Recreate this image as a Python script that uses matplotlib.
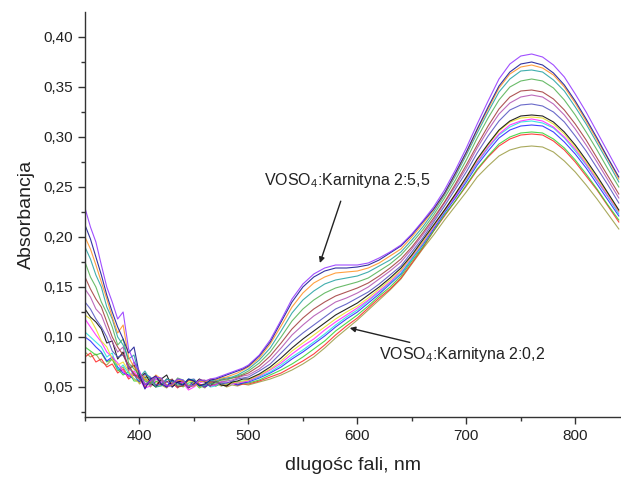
import matplotlib
matplotlib.use("Agg")
import matplotlib.pyplot as plt

plt.rcParams['font.family'] = ['Liberation Sans', 'DejaVu Sans']
plt.rcParams['mathtext.fontset'] = 'custom'
plt.rcParams['mathtext.rm'] = 'Liberation Sans'

# wavelength grid: 5 nm steps in the noisy UV part, 10 nm steps afterwards
wavelengths = [350, 355, 360, 365, 370, 375, 380, 385, 390, 395, 400, 405, 410, 415, 420,
               425, 430, 435, 440, 445, 450, 455, 460, 465, 470, 475, 480, 485, 490, 495,
               500, 510, 520, 530, 540, 550, 560, 570, 580, 590, 600, 610, 620, 630, 640,
               650, 660, 670, 680, 690, 700, 710, 720, 730, 740, 750, 760, 770, 780, 790,
               800, 810, 820, 830, 840]

# spectra, from the 2:0,2 sample (lowest) up to the 2:5,5 sample (highest)
s00 = [.085, .080, .083, .075, .072, .078, .066, .070, .060, .064, .053, .058, .050, .056, .052,
       .049, .055, .051, .056, .050, .054, .052, .049, .055, .051, .053, .050, .052, .051, .053,
       .052, .055, .058, .062, .067, .073, .080, .089, .099, .108, .117, .127, .137, .147, .158,
       .173, .188, .202, .217, .231, .245, .260, .271, .281, .287, .290, .291, .290, .285, .276,
       .265, .252, .238, .223, .208]
s01 = [.080, .084, .075, .078, .070, .073, .064, .068, .058, .062, .061, .050, .056, .052, .057,
       .050, .054, .049, .055, .051, .056, .053, .050, .054, .052, .055, .051, .054, .052, .053,
       .053, .056, .060, .064, .070, .076, .083, .092, .102, .111, .119, .129, .139, .148, .159,
       .174, .189, .206, .221, .236, .251, .267, .280, .291, .298, .302, .303, .302, .296, .287,
       .275, .261, .247, .231, .215]
s02 = [.090, .086, .082, .084, .075, .078, .068, .062, .065, .056, .056, .060, .052, .055, .058,
       .050, .053, .056, .050, .054, .055, .049, .052, .056, .051, .054, .052, .055, .053, .054,
       .054, .057, .062, .067, .073, .080, .088, .096, .106, .114, .122, .131, .141, .150, .161,
       .176, .190, .206, .222, .236, .252, .268, .281, .293, .300, .304, .305, .304, .298, .289,
       .277, .263, .248, .232, .217]
s03 = [.100, .096, .090, .085, .076, .080, .070, .064, .062, .058, .055, .060, .059, .051, .052,
       .056, .050, .055, .054, .050, .056, .051, .050, .053, .055, .051, .053, .054, .052, .054,
       .055, .059, .064, .070, .078, .085, .093, .101, .110, .118, .125, .134, .143, .153, .163,
       .178, .192, .208, .224, .239, .255, .272, .286, .299, .307, .311, .312, .311, .305, .295,
       .283, .269, .253, .237, .221]
s04 = [.105, .100, .095, .090, .080, .084, .067, .072, .064, .058, .057, .053, .053, .058, .056,
       .051, .051, .057, .057, .052, .052, .056, .055, .050, .051, .055, .054, .053, .055, .056,
       .056, .060, .065, .072, .080, .087, .095, .103, .112, .120, .127, .136, .145, .154, .164,
       .178, .193, .210, .225, .241, .257, .274, .289, .302, .310, .315, .316, .314, .309, .299,
       .286, .272, .256, .240, .223]
s05 = [.118, .110, .102, .095, .085, .080, .074, .066, .060, .066, .058, .049, .051, .058, .055,
       .050, .052, .056, .054, .047, .050, .054, .056, .051, .052, .055, .055, .053, .054, .055,
       .056, .061, .067, .074, .083, .091, .098, .107, .115, .122, .129, .137, .146, .155, .166,
       .180, .194, .210, .226, .241, .258, .275, .290, .303, .312, .316, .318, .316, .310, .300,
       .288, .273, .257, .241, .225]
s06 = [.122, .118, .108, .096, .090, .078, .072, .075, .066, .058, .054, .061, .058, .050, .052,
       .058, .057, .051, .051, .056, .055, .050, .052, .055, .056, .051, .053, .054, .055, .056,
       .057, .062, .068, .076, .086, .094, .102, .110, .118, .125, .131, .139, .148, .157, .167,
       .181, .195, .211, .227, .243, .259, .277, .292, .306, .315, .319, .320, .319, .313, .303,
       .290, .275, .259, .243, .226]
s07 = [.128, .120, .115, .108, .094, .096, .078, .085, .068, .072, .059, .064, .054, .050, .058,
       .062, .050, .055, .056, .049, .053, .058, .055, .051, .056, .052, .051, .055, .056, .058,
       .058, .063, .070, .079, .089, .098, .106, .114, .122, .128, .134, .142, .150, .159, .169,
       .182, .197, .212, .227, .243, .260, .278, .293, .307, .316, .321, .322, .321, .315, .305,
       .292, .277, .261, .244, .227]
s08 = [.135, .128, .118, .110, .100, .086, .080, .082, .070, .062, .055, .063, .060, .052, .053,
       .058, .056, .050, .052, .057, .058, .052, .051, .056, .055, .053, .054, .056, .058, .059,
       .060, .066, .073, .084, .095, .104, .112, .120, .128, .133, .139, .145, .153, .162, .171,
       .185, .199, .215, .231, .248, .265, .284, .301, .316, .327, .332, .333, .331, .325, .315,
       .301, .286, .269, .252, .234]
s09 = [.148, .140, .128, .122, .108, .095, .085, .090, .066, .075, .061, .054, .052, .060, .057,
       .051, .051, .058, .055, .050, .052, .057, .057, .051, .053, .055, .056, .057, .059, .061,
       .062, .068, .077, .089, .102, .112, .121, .128, .135, .139, .144, .150, .158, .166, .175,
       .188, .202, .217, .234, .251, .269, .289, .307, .323, .334, .340, .342, .340, .333, .322,
       .308, .292, .275, .257, .239]
s10 = [.160, .148, .138, .130, .115, .100, .090, .082, .072, .063, .058, .052, .056, .061, .052,
       .055, .058, .050, .051, .057, .056, .052, .053, .055, .055, .057, .058, .059, .060, .062,
       .064, .071, .081, .094, .108, .119, .128, .135, .141, .145, .149, .154, .161, .169, .178,
       .190, .204, .219, .235, .253, .272, .292, .311, .328, .340, .346, .347, .345, .338, .327,
       .313, .297, .279, .261, .243]
s11 = [.175, .160, .150, .135, .124, .110, .092, .098, .074, .068, .062, .056, .053, .060, .058,
       .052, .052, .059, .057, .051, .051, .056, .056, .053, .054, .057, .057, .059, .061, .063,
       .066, .074, .085, .100, .116, .128, .137, .144, .149, .152, .155, .159, .166, .173, .182,
       .194, .207, .222, .239, .257, .277, .299, .319, .337, .350, .356, .358, .356, .349, .337,
       .322, .305, .287, .268, .250]
s12 = [.190, .178, .162, .150, .130, .118, .100, .092, .078, .082, .060, .066, .057, .050, .051,
       .058, .056, .052, .053, .058, .057, .051, .052, .057, .056, .058, .059, .060, .062, .065,
       .068, .077, .089, .106, .124, .137, .146, .153, .157, .159, .161, .165, .171, .177, .185,
       .197, .210, .225, .242, .261, .282, .304, .325, .345, .358, .366, .367, .365, .357, .346,
       .330, .313, .294, .275, .255]
s13 = [.200, .188, .172, .155, .138, .120, .104, .112, .080, .070, .064, .058, .055, .062, .058,
       .052, .052, .057, .056, .051, .051, .056, .055, .058, .057, .059, .060, .062, .064, .067,
       .070, .079, .093, .111, .130, .144, .154, .160, .164, .165, .166, .169, .174, .181, .188,
       .200, .213, .227, .243, .263, .284, .307, .328, .349, .363, .370, .372, .369, .362, .350,
       .334, .316, .297, .278, .258]
s14 = [.212, .198, .180, .162, .142, .125, .110, .098, .084, .090, .062, .048, .058, .061, .053,
       .050, .057, .054, .052, .058, .056, .051, .053, .057, .058, .060, .062, .064, .066, .068,
       .071, .081, .095, .115, .135, .150, .160, .166, .169, .169, .170, .172, .177, .184, .191,
       .202, .215, .228, .244, .264, .285, .308, .330, .351, .365, .373, .375, .372, .364, .352,
       .336, .318, .299, .279, .260]
s15 = [.229, .210, .195, .172, .150, .135, .118, .125, .088, .075, .066, .052, .056, .060, .059,
       .051, .053, .058, .057, .050, .052, .057, .056, .058, .059, .061, .063, .065, .067, .069,
       .072, .082, .097, .117, .138, .153, .163, .169, .172, .172, .172, .174, .179, .185, .192,
       .203, .216, .230, .247, .267, .289, .313, .336, .358, .373, .381, .383, .380, .372, .360,
       .343, .325, .305, .285, .265]

spectra = [s00, s01, s02, s03, s04, s05, s06, s07, s08, s09, s10, s11, s12, s13, s14, s15]
colors = ['#9a9a40', '#ff2020', '#30d030', '#2020ff', '#20e0e0', '#ff20ff', '#e8e020', '#000000',
          '#5050c0', '#b050b0', '#a03838', '#50b050', '#20a0a0', '#ff9020', '#101090', '#9030ff']

xticks = [400, 500, 600, 700, 800]
xtick_labels = ['400', '500', '600', '700', '800']
yticks = [0.05, 0.10, 0.15, 0.20, 0.25, 0.30, 0.35, 0.40]
ytick_labels = ['0,05', '0,10', '0,15', '0,20', '0,25', '0,30', '0,35', '0,40']

fig = plt.figure(figsize=(6.21, 4.79), dpi=100)
ax = fig.add_axes([85/621, 62/479, 536/621, 405/479])

for y, c in zip(spectra, colors):
    ax.plot(wavelengths, y, color=c, lw=0.8, alpha=0.85)

ax.set_xlim(350, 842)
ax.set_ylim(0.02, 0.425)
ax.spines['top'].set_visible(False)
ax.spines['right'].set_visible(False)
for sp in ('left', 'bottom'):
    ax.spines[sp].set_color('#333333')
    ax.spines[sp].set_linewidth(1.0)

ax.set_xticks(xticks)
ax.set_xticklabels(xtick_labels)
ax.set_xticks([350, 450, 550, 650, 750], minor=True)
ax.set_yticks(yticks)
ax.set_yticklabels(ytick_labels)
ax.set_yticks([0.025, 0.075, 0.125, 0.175, 0.225, 0.275, 0.325, 0.375], minor=True)
ax.tick_params(which='major', direction='out', length=5, width=1, color='#333333',
               labelsize=11, labelcolor='#222222', pad=4)
ax.tick_params(which='minor', direction='out', length=3, width=1, color='#333333')

ax.set_xlabel('dlugośc fali, nm', fontsize=14, color='#222222', labelpad=10)
ax.set_ylabel('Absorbancja', fontsize=14, color='#222222', labelpad=6)

ax.annotate('VOSO$_\\mathregular{4}$:Karnityna 2:5,5', xy=(565.6, 0.174), xytext=(591, 0.256),
            fontsize=11.5, color='#222222', ha='center', va='center',
            arrowprops=dict(arrowstyle='-|>', color='#222222', lw=1.0,
                            shrinkA=6, shrinkB=0, mutation_scale=8))
ax.annotate('VOSO$_\\mathregular{4}$:Karnityna 2:0,2', xy=(593, 0.109), xytext=(620, 0.082),
            fontsize=11.5, color='#222222', ha='left', va='center',
            arrowprops=dict(arrowstyle='-|>', color='#222222', lw=1.0,
                            shrinkA=1, shrinkB=0, mutation_scale=8))

fig.savefig('out.png', dpi=100)
